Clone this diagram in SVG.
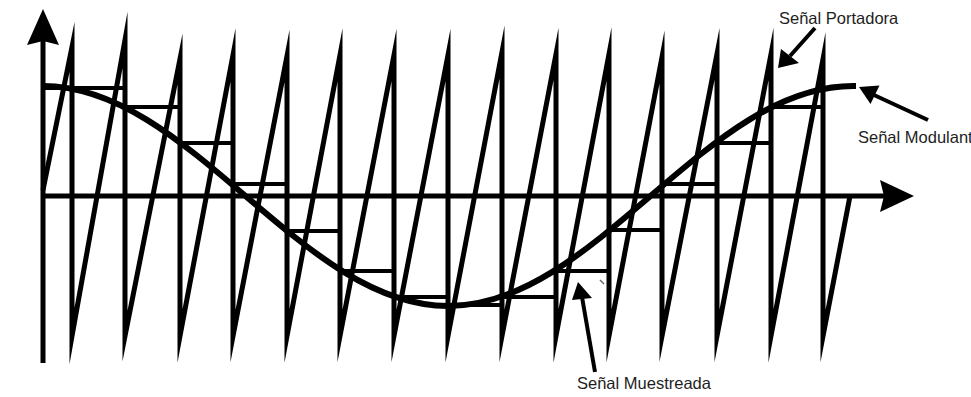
<svg xmlns="http://www.w3.org/2000/svg" width="971" height="397" viewBox="0 0 971 397">
  <style>
    .ink { stroke: #000; fill: none; }
    .axis { stroke-width: 5; stroke-linecap: butt; }
    .carrier { stroke-width: 5; stroke-linejoin: miter; stroke-miterlimit: 30; }
    .steps { stroke-width: 4; stroke-linecap: butt; }
    .signal { stroke-width: 6; stroke-linecap: butt; }
    .ptr { stroke: #000; stroke-width: 4; fill: none; }
    .head { fill: #000; stroke: none; }
    .lbl { font-family: "Liberation Sans", Arial, sans-serif; font-size: 16.5px; fill: #1e1e1e; }
  </style>
  <rect width="971" height="397" fill="#fff"/>

  <g id="axes">
    <line class="ink axis" x1="43" y1="363" x2="43" y2="40"/>
    <polygon class="head" points="43,9 59,45 43,41 27,45"/>
    <line class="ink axis" x1="41" y1="196" x2="886" y2="196"/>
    <polygon class="head" points="914,196 880,212 884,196 880,180"/>
  </g>

  <g id="carrier">
    <polyline class="ink carrier" points="43,190 72,47 72,336 125,40 125,336 180,59 180,336 233,55 233,336 287,56 287,336 340,55 340,336 394,55 394,336 448,55 448,336 502,52 502,336 556,54 556,336 609,54 609,336 662,57 662,336 717,54 717,336 771,54 771,336 823,59 823,336 850,196"/>
  </g>

  <g id="sampled">
    <g class="ink steps">
      <line x1="43" y1="88" x2="125" y2="88"/>
      <line x1="125" y1="107" x2="180" y2="107"/>
      <line x1="180" y1="143" x2="233" y2="143"/>
      <line x1="233" y1="184" x2="287" y2="184"/>
      <line x1="287" y1="231" x2="340" y2="231"/>
      <line x1="340" y1="271" x2="394" y2="271"/>
      <line x1="394" y1="297" x2="448" y2="297"/>
      <line x1="448" y1="305" x2="502" y2="305"/>
      <line x1="502" y1="297" x2="556" y2="297"/>
      <line x1="556" y1="271" x2="609" y2="271"/>
      <line x1="609" y1="230" x2="662" y2="230"/>
      <line x1="662" y1="184" x2="717" y2="184"/>
      <line x1="717" y1="143" x2="771" y2="143"/>
      <line x1="771" y1="107" x2="823" y2="107"/>
    </g>
  </g>

  <g id="modulating">
    <path class="ink signal" d="M43,86 C116.3,86 179.5,139.6 245.5,196 C311.6,252.4 374.7,306 448,306 C521.3,306 584.4,252.4 650.5,196 C716.5,139.6 779.7,86 853,86 L856,86"/>
  </g>

  <g id="label-portadora">
    <text class="lbl" x="779" y="24">Señal Portadora</text>
    <line class="ptr" x1="815" y1="28" x2="790" y2="56"/>
    <polygon class="head" points="778,68 781,49 799,63"/>
  </g>

  <g id="label-modulante">
    <text class="lbl" x="858" y="143">Señal Modulant</text>
    <line class="ptr" x1="928" y1="120" x2="874" y2="95"/>
    <polygon class="head" points="859,87 879.5,85.5 870.5,104"/>
  </g>

  <g id="label-muestreada">
    <text class="lbl" x="577" y="389">Señal Muestreada</text>
    <line class="ptr" x1="595" y1="372" x2="582" y2="297"/>
    <polygon class="head" points="578,282 592,298 572,300"/>
    <line x1="600" y1="280" x2="604" y2="284" stroke="#666" stroke-width="1.5"/>
  </g>
</svg>
